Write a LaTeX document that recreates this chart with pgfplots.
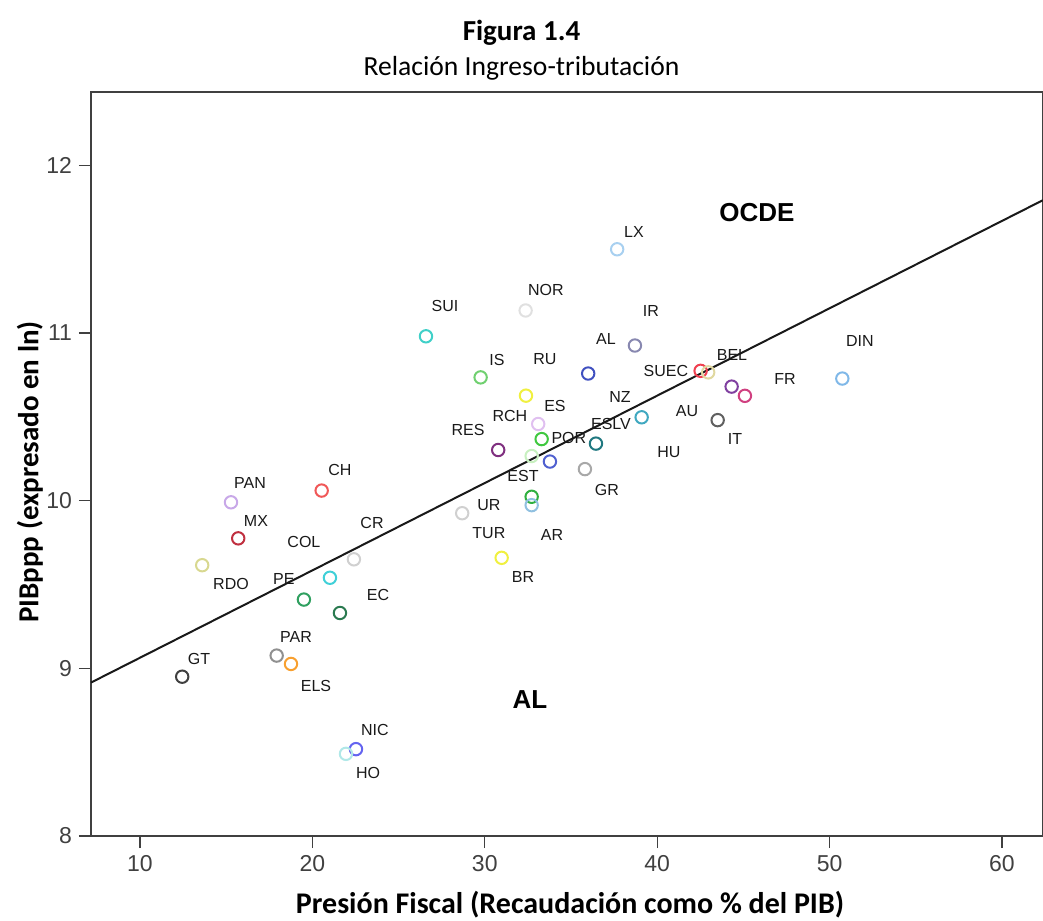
\documentclass[border=0pt]{standalone}
\usepackage{pgfplots}
\pgfplotsset{compat=1.18}
\usepackage{fontspec}
\setmainfont{Liberation Sans}
\newfontfamily\calfont{Carlito}
\tikzset{lbl/.style={font=\fontsize{8}{9}\selectfont, text=black!90}}
\definecolor{cPAN}{HTML}{C8A8E8}
\definecolor{cCH}{HTML}{F05858}
\definecolor{cMX}{HTML}{C03040}
\definecolor{cRDO}{HTML}{D8D890}
\definecolor{cCR}{HTML}{D0D0D0}
\definecolor{cCOL}{HTML}{40D0D8}
\definecolor{cPE}{HTML}{30A060}
\definecolor{cEC}{HTML}{2A7A50}
\definecolor{cPAR}{HTML}{909090}
\definecolor{cELS}{HTML}{F8A030}
\definecolor{cGT}{HTML}{404040}
\definecolor{cNIC}{HTML}{6464F0}
\definecolor{cHO}{HTML}{B0E8E8}
\definecolor{cLX}{HTML}{A8D0F0}
\definecolor{cNOR}{HTML}{E0E0E0}
\definecolor{cSUI}{HTML}{40D0C8}
\definecolor{cAL}{HTML}{8888B0}
\definecolor{cIS}{HTML}{70D070}
\definecolor{cRU}{HTML}{4050C0}
\definecolor{cES}{HTML}{F0F040}
\definecolor{cSUEC}{HTML}{F04050}
\definecolor{cBEL}{HTML}{E0D8A0}
\definecolor{cRCH}{HTML}{E0C0F0}
\definecolor{cNZ}{HTML}{40A8C0}
\definecolor{cPOR}{HTML}{40C840}
\definecolor{cRES}{HTML}{803080}
\definecolor{cESLV}{HTML}{207880}
\definecolor{cLG}{HTML}{C8F0C0}
\definecolor{cBL}{HTML}{5060D0}
\definecolor{cGR}{HTML}{A8A8A8}
\definecolor{cAU}{HTML}{606060}
\definecolor{cPU}{HTML}{8040A0}
\definecolor{cPK}{HTML}{D04080}
\definecolor{cDIN}{HTML}{80B8E8}
\definecolor{cEST}{HTML}{30B040}
\definecolor{cLB}{HTML}{90C0E0}
\definecolor{cUR}{HTML}{D0D0D0}
\definecolor{cBR}{HTML}{F0F040}
\newcommand{\pnt}[3]{\addplot[only marks, mark=o, mark size=3.1pt, mark options={line width=1pt, draw=#3}] coordinates {(#1,#2)};}
\begin{document}
\begin{tikzpicture}[x=1pt,y=1pt]
\path[use as bounding box] (-45.5,-42) rectangle (476,418);
\begin{axis}[
  at={(0,0)}, anchor=south west,
  scale only axis, width=476pt, height=372pt,
  xmin=7.16, xmax=62.38, ymin=8, ymax=12.437,
  xtick={10,20,30,40,50,60}, ytick={8,9,10,11,12},
  tick align=outside, xtick pos=bottom, ytick pos=left,
  major tick length=6pt,
  tick style={black!75, line width=0.6pt},
  axis line style={black!75, line width=1pt},
  tick label style={font=\fontsize{11.5}{13}\selectfont, text=black!75},
  /pgf/number format/assume math mode=true,
  clip=false,
]
\addplot[black!90, line width=1pt] coordinates {(7.16,8.915) (62.38,11.792)};
\pnt{15.28}{9.99}{cPAN}
\pnt{20.54}{10.06}{cCH}
\pnt{15.70}{9.775}{cMX}
\pnt{13.61}{9.615}{cRDO}
\pnt{22.41}{9.65}{cCR}
\pnt{21.02}{9.54}{cCOL}
\pnt{19.51}{9.41}{cPE}
\pnt{21.6}{9.33}{cEC}
\pnt{17.93}{9.076}{cPAR}
\pnt{18.76}{9.026}{cELS}
\pnt{12.45}{8.95}{cGT}
\pnt{22.53}{8.518}{cNIC}
\pnt{21.95}{8.49}{cHO}
\pnt{37.68}{11.499}{cLX}
\pnt{32.37}{11.134}{cNOR}
\pnt{26.59}{10.98}{cSUI}
\pnt{38.71}{10.925}{cAL}
\pnt{29.76}{10.735}{cIS}
\pnt{36.0}{10.758}{cRU}
\pnt{32.39}{10.626}{cES}
\pnt{42.52}{10.774}{cSUEC}
\pnt{42.96}{10.765}{cBEL}
\pnt{33.10}{10.457}{cRCH}
\pnt{39.10}{10.497}{cNZ}
\pnt{33.30}{10.367}{cPOR}
\pnt{30.78}{10.302}{cRES}
\pnt{36.45}{10.34}{cESLV}
\pnt{32.72}{10.266}{cLG}
\pnt{33.78}{10.233}{cBL}
\pnt{35.81}{10.188}{cGR}
\pnt{43.51}{10.48}{cAU}
\pnt{44.32}{10.68}{cPU}
\pnt{45.09}{10.625}{cPK}
\pnt{50.74}{10.728}{cDIN}
\pnt{32.72}{10.023}{cEST}
\pnt{32.72}{9.973}{cLB}
\pnt{28.69}{9.925}{cUR}
\pnt{30.98}{9.659}{cBR}
% labels
\node[font=\bfseries\fontsize{13}{15}\selectfont] at (axis cs:45.79,11.718) {OCDE};
\node[font=\bfseries\fontsize{13}{15}\selectfont] at (axis cs:32.62,8.813) {AL};
\node[lbl] at (axis cs:38.65,11.604) {LX};
\node[lbl] at (axis cs:33.55,11.258) {NOR};
\node[lbl] at (axis cs:27.69,11.162) {SUI};
\node[lbl] at (axis cs:39.64,11.132) {IR};
\node[lbl] at (axis cs:37.03,10.965) {AL};
\node[lbl] at (axis cs:51.76,10.953) {DIN};
\node[lbl] at (axis cs:30.71,10.839) {IS};
\node[lbl] at (axis cs:33.49,10.845) {RU};
\node[lbl] at (axis cs:40.51,10.774) {SUEC};
\node[lbl] at (axis cs:44.34,10.869) {BEL};
\node[lbl] at (axis cs:47.41,10.726) {FR};
\node[lbl] at (axis cs:37.84,10.618) {NZ};
\node[lbl] at (axis cs:34.07,10.564) {ES};
\node[lbl] at (axis cs:41.73,10.534) {AU};
\node[lbl] at (axis cs:31.46,10.505) {RCH};
\node[lbl] at (axis cs:29.03,10.421) {RES};
\node[lbl] at (axis cs:37.32,10.457) {ESLV};
\node[lbl] at (axis cs:34.88,10.373) {POR};
\node[lbl] at (axis cs:44.51,10.367) {IT};
\node[lbl] at (axis cs:40.68,10.289) {HU};
\node[lbl] at (axis cs:32.22,10.146) {EST};
\node[lbl] at (axis cs:37.09,10.062) {GR};
\node[lbl] at (axis cs:16.38,10.104) {PAN};
\node[lbl] at (axis cs:21.60,10.182) {CH};
\node[lbl] at (axis cs:30.24,9.973) {UR};
\node[lbl] at (axis cs:16.73,9.877) {MX};
\node[lbl] at (axis cs:23.46,9.865) {CR};
\node[lbl] at (axis cs:19.51,9.751) {COL};
\node[lbl] at (axis cs:33.90,9.793) {AR};
\node[lbl] at (axis cs:30.24,9.805) {TUR};
\node[lbl] at (axis cs:15.28,9.50) {RDO};
\node[lbl] at (axis cs:18.35,9.530) {PE};
\node[lbl] at (axis cs:32.22,9.542) {BR};
\node[lbl] at (axis cs:23.81,9.435) {EC};
\node[lbl] at (axis cs:19.05,9.189) {PAR};
\node[lbl] at (axis cs:13.42,9.058) {GT};
\node[lbl] at (axis cs:20.21,8.897) {ELS};
\node[lbl] at (axis cs:23.63,8.634) {NIC};
\node[lbl] at (axis cs:23.23,8.377) {HO};
\end{axis}
\node[font=\calfont\bfseries\fontsize{14.5}{16}\selectfont] at (215.25,401.5) {Figura 1.4};
\node[font=\calfont\fontsize{13.8}{15}\selectfont] at (215.25,384) {Relación Ingreso-tributación};
\node[font=\calfont\bfseries\fontsize{15}{17}\selectfont] at (239.5,-34.5) {Presión Fiscal (Recaudación como \% del PIB)};
\node[font=\calfont\bfseries\fontsize{14.5}{16}\selectfont, rotate=90] at (-30.5,182) {PIBppp (expresado en ln)};
\end{tikzpicture}
\end{document}
